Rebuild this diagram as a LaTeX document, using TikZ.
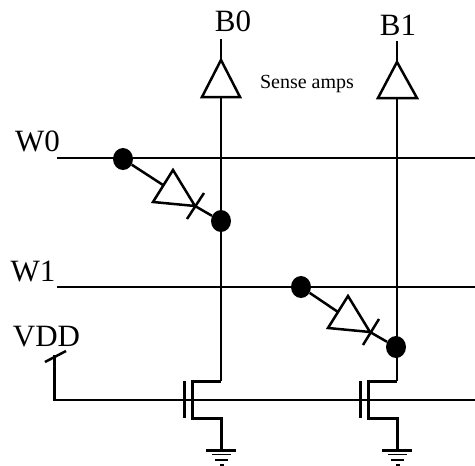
\documentclass[tikz,border=0pt]{standalone}
\usepackage{fontspec}
\setmainfont{Liberation Serif}
\usetikzlibrary{shapes, positioning}
\tikzset{
	wire/.style={line width=3pt},
	thinwire/.style={line width=2.5pt},
	dotjoin/.style={draw=none, fill=black, ellipse, inner sep=0pt, minimum width=20pt, minimum height=22pt},
	biglabel/.style={inner sep=0pt, font=\fontsize{31}{31}\selectfont},
	smalllabel/.style={inner sep=0pt, font=\fontsize{20}{20}\selectfont}
}
\begin{document}
\begin{tikzpicture}[x=1pt, y=-1pt]
	\useasboundingbox (0,0) rectangle (475,466);

	% labels
	\node [biglabel] (labelb0) at (233,21) {B0};
	\node [biglabel] (labelb1) at (398,25) {B1};
	\node [smalllabel] (labelsense) at (307,84) {Sense amps};
	\node [biglabel] (labelw0) at (37.5,141) {W0};
	\node [biglabel] (labelw1) at (33,271) {W1};
	\node [biglabel] (labelvdd) at (46.5,337) {VDD};

	% word lines
	\coordinate (w0start) at (57,158);
	\coordinate (w0end) at (475,158);
	\coordinate (w1start) at (57,287);
	\coordinate (w1end) at (475,287);
	\draw [thinwire] (w0start) -- (w0end);
	\draw [thinwire] (w1start) -- (w1end);

	% joins
	\node [dotjoin] (dotw0) at (123,159) {};
	\node [dotjoin] (dotb0) at (221,221) {};
	\node [dotjoin] (dotw1) at (301,287) {};
	\node [dotjoin] (dotb1) at (396,347) {};

	% sense amps
	\coordinate (b0top) at (221,39);
	\coordinate (b0tip) at (221,60);
	\coordinate (b0left) at (202,97);
	\coordinate (b0right) at (240,97);
	\coordinate (b0base) at (221,97);
	\coordinate (b1top) at (397,41);
	\coordinate (b1tip) at (397,62);
	\coordinate (b1left) at (378,98);
	\coordinate (b1right) at (417,98);
	\coordinate (b1base) at (397,98);
	\draw [thinwire] (b0top) -- (b0tip);
	\draw [thinwire] (b1top) -- (b1tip);
	\draw [thinwire, line join=miter] (b0tip) -- (b0right) -- (b0left) -- cycle;
	\draw [thinwire, line join=miter] (b1tip) -- (b1right) -- (b1left) -- cycle;

	% diodes
	\coordinate (d0in) at (163,185);
	\coordinate (d0tip) at (173,170);
	\coordinate (d0low) at (153,202);
	\coordinate (d0cath) at (195,206);
	\coordinate (d0ticka) at (187,219);
	\coordinate (d0tickb) at (204,193);
	\draw [thinwire] (dotw0) -- (d0in);
	\draw [thinwire] (d0tip) -- (d0cath) -- (d0low) -- cycle;
	\draw [thinwire] (d0ticka) -- (d0tickb);
	\draw [thinwire] (d0cath) -- (dotb0);

	\coordinate (d1in) at (338,312);
	\coordinate (d1tip) at (348,296);
	\coordinate (d1low) at (328,328);
	\coordinate (d1cath) at (370,332);
	\coordinate (d1ticka) at (363,345);
	\coordinate (d1tickb) at (379,319);
	\draw [thinwire] (dotw1) -- (d1in);
	\draw [thinwire] (d1tip) -- (d1cath) -- (d1low) -- cycle;
	\draw [thinwire] (d1ticka) -- (d1tickb);
	\draw [thinwire] (d1cath) -- (dotb1);

	% bit lines and transistors
	\coordinate (t0d) at (192,381);
	\coordinate (t0dr) at (221,381);
	\coordinate (t0s) at (192,418);
	\coordinate (t0sr) at (221,418);
	\coordinate (t0gnd) at (221,450);
	\coordinate (t0ga) at (184.5,381);
	\coordinate (t0gb) at (184.5,418);
	\coordinate (t1d) at (368,381);
	\coordinate (t1dr) at (397,381);
	\coordinate (t1s) at (368,418);
	\coordinate (t1sr) at (397,418);
	\coordinate (t1gnd) at (397,450);
	\coordinate (t1ga) at (360,381);
	\coordinate (t1gb) at (360,418);
	\draw [thinwire] (b0base) -- (t0dr);
	\draw [thinwire] (b1base) -- (t1dr);
	\draw [wire, line join=miter] (t0dr) -- (t0d) -- (t0s) -- (t0sr) -- (t0gnd);
	\draw [wire, line join=miter] (t1dr) -- (t1d) -- (t1s) -- (t1sr) -- (t1gnd);
	\draw [wire] (t0ga) -- (t0gb);
	\draw [wire] (t1ga) -- (t1gb);

	% vdd and gate line
	\coordinate (vddtop) at (54.5,355);
	\coordinate (vddcorner) at (54.5,400);
	\coordinate (gateend) at (475,400);
	\coordinate (vddticka) at (45,362);
	\coordinate (vddtickb) at (66,351);
	\draw [thinwire, line join=miter] (vddtop) -- (vddcorner) -- (gateend);
	\draw [thinwire] (vddticka) -- (vddtickb);

	% grounds
	\draw [wire] (206,450) -- (236,450);
	\draw [line width=1.5pt] (212,454.5) -- (231,454.5);
	\draw [line width=2pt] (215,460) -- (228,460);
	\draw [line width=2pt] (220,465) -- (224,465);
	\draw [wire] (382,450) -- (412,450);
	\draw [line width=1.5pt] (388,454.5) -- (407,454.5);
	\draw [line width=2pt] (391,460) -- (404,460);
	\draw [line width=2pt] (396,465) -- (400,465);
\end{tikzpicture}
\end{document}
